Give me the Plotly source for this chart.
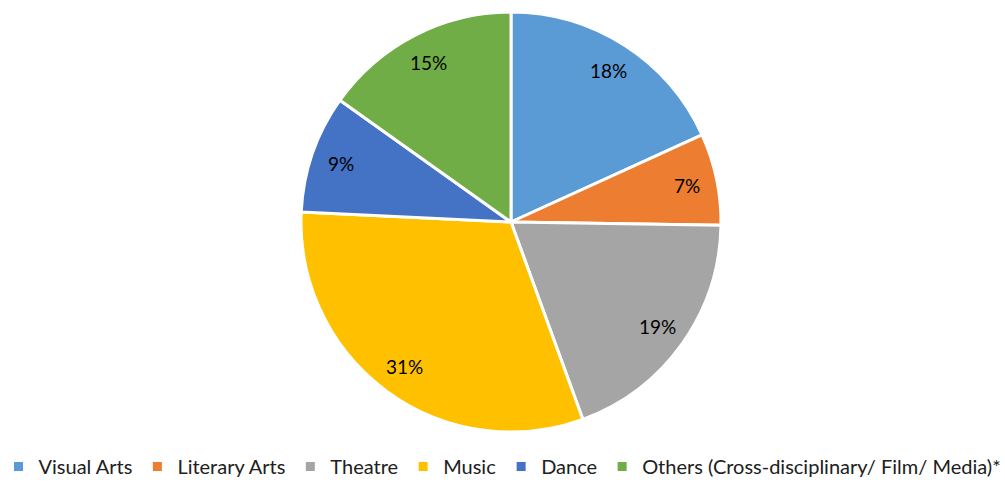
import numpy as np
import plotly.graph_objects as go

categories = ["Visual Arts", "Literary Arts", "Theatre", "Music", "Dance",
              "Others (Cross-disciplinary/ Film/ Media)*"]
shares = [18, 7, 19, 31, 9, 15]
colors = ["#5B9BD5", "#ED7D31", "#A5A5A5", "#FFC000", "#4472C4", "#70AD47"]

W, H = 1005, 486
cx, cy, r = 511, 222, 210   # pie centre and radius in pixels
label_r = 180               # radius at which percentage labels sit
FONT = "Lato, Calibri, sans-serif"

fig = go.Figure(go.Pie(
    labels=categories,
    values=shares,
    sort=False,
    direction="clockwise",
    rotation=0,
    marker=dict(colors=colors, line=dict(color="white", width=3)),
    textinfo="none",
    hoverinfo="label+percent",
    domain=dict(x=[(cx - r) / W, (cx + r) / W],
                y=[1 - (cy + r) / H, 1 - (cy - r) / H]),
))

# percentage labels placed at each slice's mid-angle
vals = np.array(shares, dtype=float)
frac = vals / vals.sum()
mid = (np.cumsum(frac) - frac / 2) * 2 * np.pi
for v, a in zip(shares, mid):
    px = cx + label_r * np.sin(a)
    py = cy - label_r * np.cos(a)
    fig.add_annotation(
        x=px / W, y=1 - py / H, xref="paper", yref="paper",
        text=f"{v}%", showarrow=False,
        xanchor="center", yanchor="middle",
        font=dict(family=FONT, size=19, color="black"),
    )

fig.update_layout(
    width=W, height=H,
    margin=dict(l=0, r=0, t=0, b=0),
    paper_bgcolor="white",
    plot_bgcolor="white",
    showlegend=True,
    legend=dict(
        orientation="h",
        x=0.5, xanchor="center",
        y=0, yanchor="bottom",
        font=dict(family=FONT, size=20, color="#202020"),
        itemwidth=30,
        tracegroupgap=0,
    ),
)

fig.write_html("out.html")
